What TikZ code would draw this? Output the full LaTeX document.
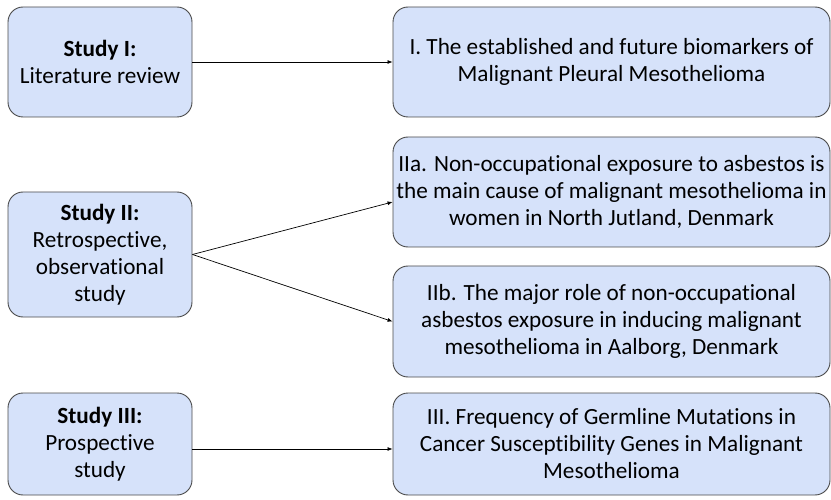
\documentclass[tikz,border=0pt]{standalone}
\usepackage{fontspec}
\setmainfont[Ligatures={NoCommon}]{Carlito}
\usetikzlibrary{arrows.meta}
\definecolor{boxfill}{HTML}{D6E2FA}
\definecolor{boxline}{HTML}{4A4A4A}
\begin{document}
\begin{tikzpicture}[x=1pt,y=-1pt,
  box/.style={draw=boxline, fill=boxfill, line width=0.9pt, rounded corners=15pt,
    align=center, inner sep=0pt,
    font=\fontsize{23.2}{27}\selectfont},
  lbox/.style={box, minimum width=184pt},
  rbox/.style={box, minimum width=437pt},
  conn/.style={draw=black, line width=0.7pt, -{Latex[length=5pt,width=4pt]}}]
\path[use as bounding box] (0,0) rectangle (831,500);
\node[lbox, minimum height=110pt] (s1) at (100,62) {\textbf{Study I:}\\Literature review};
\node[rbox, minimum height=110pt] (r1) at (611.5,62) {I. The established and future biomarkers of\\Malignant Pleural Mesothelioma};
\node[lbox, minimum height=125pt] (s2) at (100,254.5) {\textbf{Study II:}\\Retrospective,\\observational\\study};
\node[rbox, minimum height=110pt] (r2a) at (611.5,192) {IIa. Non-occupational exposure to asbestos is\\the main cause of malignant mesothelioma in\\women in North Jutland, Denmark};
\node[rbox, minimum height=111pt] (r2b) at (611.5,321.5) {IIb. The major role of non-occupational\\asbestos exposure in inducing malignant\\mesothelioma in Aalborg, Denmark};
\node[lbox, minimum height=102pt] (s3) at (100,444) {\textbf{Study III:}\\Prospective\\study};
\node[rbox, minimum height=102pt] (r3) at (611.5,444) {III. Frequency of Germline Mutations in\\Cancer Susceptibility Genes in Malignant\\Mesothelioma};
\draw[conn] (s1.east) -- (r1.west);
\draw[conn] (s2.east) -- ([yshift=-10pt]r2a.west);
\draw[conn] (s2.east) -- (r2b.west);
\draw[conn] ([yshift=-5pt]s3.east) -- ([yshift=-5pt]r3.west);
\end{tikzpicture}
\end{document}
